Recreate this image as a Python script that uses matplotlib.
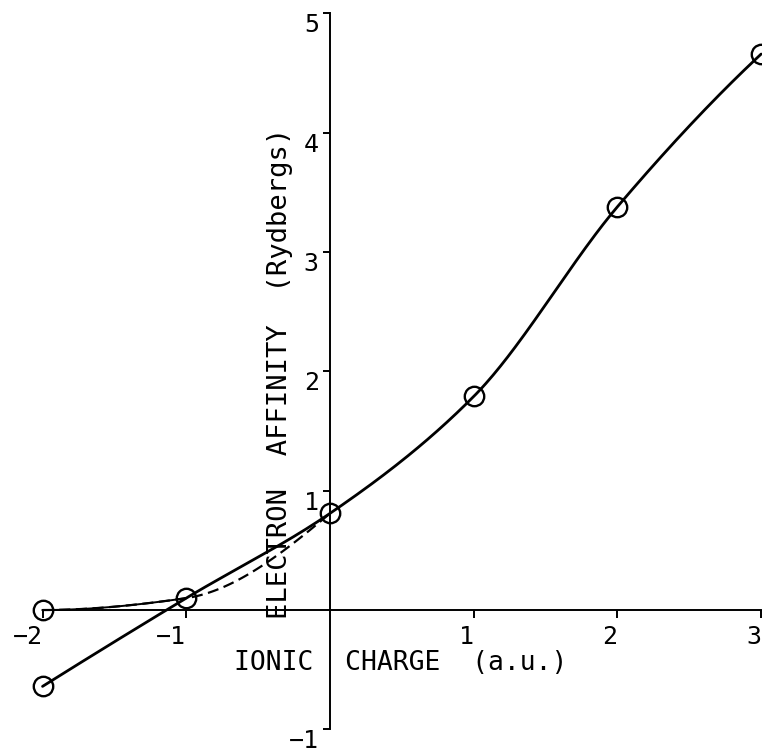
import numpy as np
import matplotlib

matplotlib.use("Agg")
import matplotlib.pyplot as plt

# ionic charge (a.u.)
charge = [-2, -1, 0, 1, 2, 3]
# electron affinity (Rydbergs), solid curve
affinity = [-0.64, 0.10, 0.81, 1.79, 3.38, 4.66]
# dashed branch from the neutral-ish point at -2
charge_alt = [-2, -1, 0]
affinity_alt = [0.00, 0.10, 0.81]

xticks = [-2, -1, 1, 2, 3]
yticks = [-1, 1, 2, 3, 4, 5]


def pchip(x, y, n=60):
    """Smooth monotone cubic through the points, for drawing only."""
    x = np.asarray(x, float)
    y = np.asarray(y, float)
    h = np.diff(x)
    d = np.diff(y) / h
    m = np.zeros_like(y)
    for i in range(1, len(x) - 1):
        if d[i - 1] * d[i] > 0:
            m[i] = 2.0 / (1.0 / d[i - 1] + 1.0 / d[i])
    for i, j, k in ((0, 0, 1), (-1, -1, -2)):
        e = (3 * d[j] - d[k]) / 2.0
        if np.sign(e) != np.sign(d[j]):
            e = 0.0
        m[i] = e
    xs, ys = [], []
    for i in range(len(h)):
        t = np.linspace(0, 1, n)
        h00 = 2 * t**3 - 3 * t**2 + 1
        h10 = t**3 - 2 * t**2 + t
        h01 = -2 * t**3 + 3 * t**2
        h11 = t**3 - t**2
        xs.append(x[i] + t * h[i])
        ys.append(h00 * y[i] + h10 * h[i] * m[i] + h01 * y[i + 1] + h11 * h[i] * m[i + 1])
    return np.concatenate(xs), np.concatenate(ys)


plt.rcParams["font.family"] = "DejaVu Sans Mono"

fig = plt.figure(figsize=(7.62, 7.52), dpi=100)
ax = fig.add_axes([0, 0, 1, 1])
ax.set_xlim(-2.296, 3.006)
ax.set_ylim(-1.190, 5.113)

# axes crossing at the origin
for side in ("top", "right"):
    ax.spines[side].set_visible(False)
ax.spines["left"].set_position(("data", 0))
ax.spines["bottom"].set_position(("data", 0))
ax.spines["left"].set_bounds(-1, 5)
ax.spines["bottom"].set_bounds(-2, 3)
for side in ("left", "bottom"):
    ax.spines[side].set_linewidth(1.4)

ax.set_xticks(xticks)
ax.set_xticklabels([str(v).replace("-", "\u2212") for v in xticks], ha="right", va="top")
ax.set_yticks(yticks)
ax.set_yticklabels([str(v).replace("-", "\u2212") for v in yticks], ha="right", va="top")
ax.tick_params(axis="x", direction="out", length=5.8, width=1.4, pad=5, labelsize=18)
ax.tick_params(axis="y", direction="out", length=5, width=1.4, pad=3, labelsize=18)

# curves
sx, sy = pchip(charge, affinity)
ax.plot(sx, sy, color="black", lw=2.0, solid_capstyle="round")
dx, dy = pchip(charge_alt, affinity_alt)
ax.plot(dx, dy, color="black", lw=1.6, dashes=(5, 2.5))
ax.plot(dx[dx <= -1], dy[dx <= -1], color="black", lw=1.4)

# markers
ax.plot(charge, affinity, "o", ms=14, mfc="none", mec="black", mew=1.7)
ax.plot(charge_alt[:1], affinity_alt[:1], "o", ms=14, mfc="none", mec="black", mew=1.7)

ax.text(0.526, 0.118, "IONIC  CHARGE  (a.u.)", transform=ax.transAxes,
        ha="center", va="center", fontsize=19)
ax.text(0.367, 0.503, "ELECTRON  AFFINITY  (Rydbergs)", transform=ax.transAxes,
        ha="center", va="center", rotation=90, fontsize=19.5)

fig.savefig("out.png", dpi=100)
